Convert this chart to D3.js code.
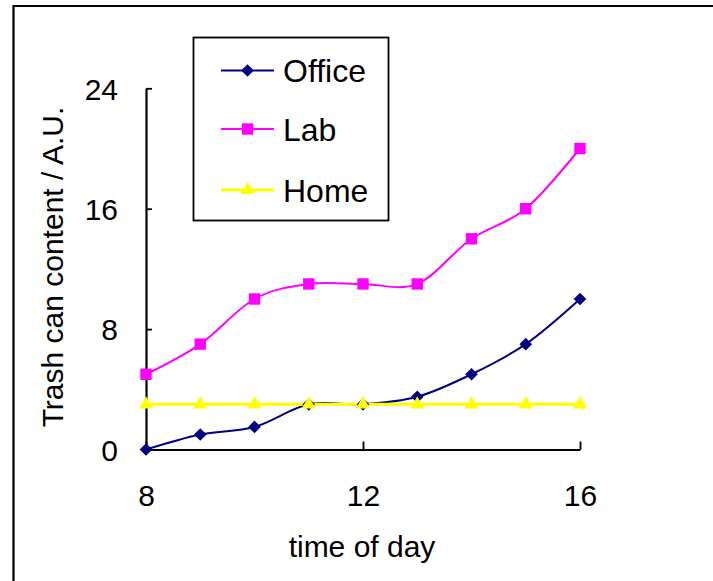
<!DOCTYPE html>
<html>
<head>
<meta charset="utf-8">
<script src="https://cdn.jsdelivr.net/npm/d3@7"></script>
<style>
  html, body { margin: 0; padding: 0; background: #fff; }
  svg { display: block; font-family: "Liberation Sans", Arial, sans-serif; }
</style>
</head>
<body>
<svg id="chart" width="713" height="581"></svg>
<script>
// Hours of the day sampled
const hours = [8, 9, 10, 11, 12, 13, 14, 15, 16];
// Trash can content per location
const office = [0, 1, 1.5, 3, 3, 3.5, 5, 7, 10];
const lab    = [5, 7, 10, 11, 11, 11, 14, 16, 20];
const home   = [3, 3, 3, 3, 3, 3, 3, 3, 3];
const seriesNames = ["Office", "Lab", "Home"];
const xTicks = [8, 12, 16];
const yTicks = [0, 8, 16, 24];

// square diamond marker (a square turned 45 degrees)
const squareDiamond = {
  draw(context, size) {
    const r = Math.sqrt(size / 2);
    context.moveTo(0, -r);
    context.lineTo(r, 0);
    context.lineTo(0, r);
    context.lineTo(-r, 0);
    context.closePath();
  }
};

const series = [
  { name: seriesNames[0], values: office, color: "#000080", symbol: squareDiamond,    size: 80,  width: 2 },
  { name: seriesNames[1], values: lab,    color: "#FF00FF", symbol: d3.symbolSquare,  size: 130, width: 2 },
  { name: seriesNames[2], values: home,   color: "#FFFF00", symbol: d3.symbolTriangle, size: 85, width: 3 }
];

const svg = d3.select("#chart");

// outer frame (top and left edges)
svg.append("path")
  .attr("d", "M13.5,581 L13.5,6 L713,6")
  .attr("fill", "none").attr("stroke", "#000").attr("stroke-width", 2.2);

const x = d3.scaleLinear().domain([8, 16]).range([146, 580]);
const y = d3.scaleLinear().domain([0, 24]).range([449.5, 88.3]);

// x axis
const xAxis = svg.append("g").attr("transform", "translate(0,449.5)")
  .call(d3.axisBottom(x).tickValues(xTicks).tickSizeInner(-8).tickSizeOuter(0).tickPadding(0).tickFormat(d3.format("d")));
xAxis.select(".domain").attr("stroke-width", 2.2);
xAxis.selectAll(".tick line").attr("stroke-width", 1.8);
xAxis.selectAll(".tick text")
  .attr("font-size", 30).attr("fill", "#000")
  .attr("dy", null).attr("y", 56);

// y axis
const yAxis = svg.append("g").attr("transform", "translate(146,0)")
  .call(d3.axisLeft(y).tickValues(yTicks).tickSizeInner(-6).tickSizeOuter(0).tickPadding(0).tickFormat(d3.format("d")));
yAxis.select(".domain").attr("stroke-width", 2.2);
yAxis.selectAll(".tick line").attr("stroke-width", 1.8);
yAxis.selectAll(".tick text")
  .attr("font-size", 30).attr("fill", "#000")
  .attr("x", -28).attr("dy", "0.36em");

// axis titles
svg.append("text")
  .attr("x", 362).attr("y", 557)
  .attr("text-anchor", "middle").attr("font-size", 30)
  .text("time of day");

svg.append("text")
  .attr("transform", "translate(63,267) rotate(-90)")
  .attr("text-anchor", "middle").attr("font-size", 30)
  .text("Trash can content / A.U.");

// smoothed lines with markers
const line = d3.line()
  .x((d, i) => x(hours[i]))
  .y(d => y(d))
  .curve(d3.curveCatmullRom.alpha(0));

series.forEach(s => {
  svg.append("path")
    .datum(s.values)
    .attr("d", line)
    .attr("fill", "none")
    .attr("stroke", s.color)
    .attr("stroke-width", s.width);
});

series.forEach(s => {
  svg.append("g").selectAll("path")
    .data(s.values)
    .join("path")
    .attr("transform", (d, i) => `translate(${x(hours[i])},${y(d)})`)
    .attr("d", d3.symbol().type(s.symbol).size(s.size))
    .attr("fill", s.color);
});

// legend
const legend = svg.append("g");
legend.append("rect")
  .attr("x", 193.5).attr("y", 37.5).attr("width", 195).attr("height", 183)
  .attr("fill", "#fff").attr("stroke", "#000").attr("stroke-width", 1.8);

const legendY = [70.5, 129, 190];
series.forEach((s, i) => {
  const g = legend.append("g").attr("transform", `translate(0,${legendY[i]})`);
  g.append("line")
    .attr("x1", 221).attr("x2", 274)
    .attr("stroke", s.color).attr("stroke-width", s.width);
  g.append("path")
    .attr("transform", "translate(247.5,0)")
    .attr("d", d3.symbol().type(s.symbol).size(s.size))
    .attr("fill", s.color);
  g.append("text")
    .attr("x", 283).attr("y", 11.5)
    .attr("font-size", 32)
    .text(s.name);
});
</script>
</body>
</html>
